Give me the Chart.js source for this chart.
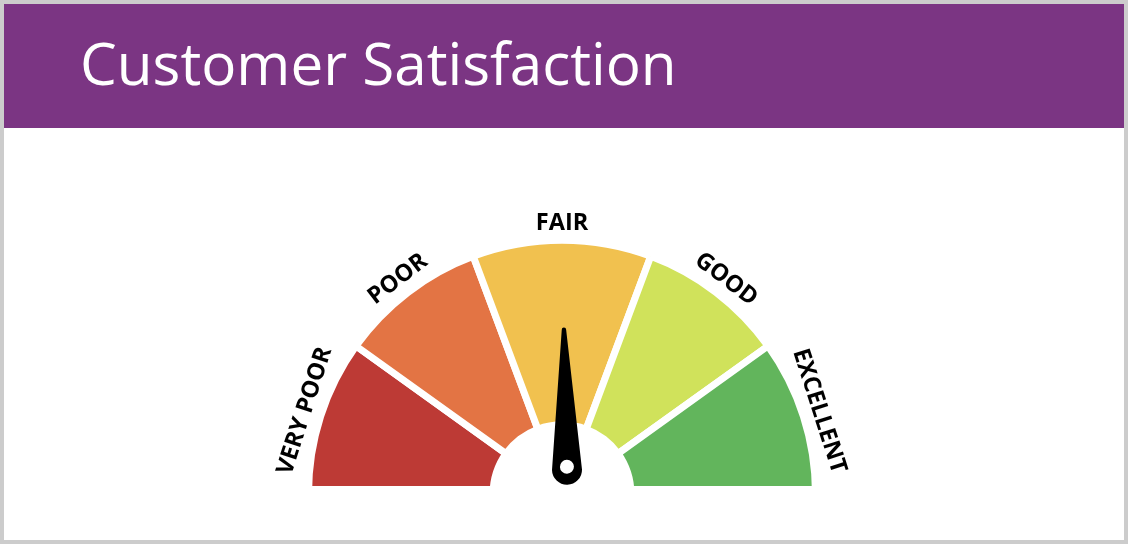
<!DOCTYPE html>
<html><head><meta charset="utf-8">
<script src="https://cdn.jsdelivr.net/npm/chart.js@4"></script>
<style>
html,body{margin:0;padding:0;background:#fff;}
#card{position:relative;width:1128px;height:544px;box-sizing:border-box;border:4px solid #cccccc;background:#fff;overflow:hidden;font-family:'Open Sans',sans-serif;}
#header{position:absolute;left:0;top:0;width:1120px;height:124px;background:#7b3583;}
#title{position:absolute;left:76px;top:30px;color:#fff;font-size:58.4px;line-height:58px;white-space:nowrap;}
#wrap{position:absolute;left:0;top:124px;width:1120px;height:358px;overflow:hidden;}
#gauge{position:absolute;left:0;top:0;}
</style></head>
<body>
<div id="card">
  <div id="header"><div id="title">Customer Satisfaction</div></div>
  <div id="wrap"><canvas id="gauge" width="1120" height="478"></canvas></div>
</div>
<script>
const categories = ['VERY POOR', 'POOR', 'FAIR', 'GOOD', 'EXCELLENT'];
const bandValues = [20, 19, 23, 19, 20];
const needleValue = 49.8;

const total = bandValues.reduce((s, v) => s + v, 0);

const labelPlugin = {
  id: 'gaugeLabels',
  afterDatasetsDraw(chart) {
    const ctx = chart.ctx;
    const meta = chart.getDatasetMeta(0);
    ctx.save();
    ctx.font = 'bold 23.5px "Open Sans"';
    ctx.fillStyle = '#000';
    ctx.textAlign = 'center';
    ctx.textBaseline = 'alphabetic';
    meta.data.forEach((arc, i) => {
      const p = arc.getProps(['x', 'y', 'startAngle', 'endAngle', 'outerRadius'], true);
      const a = (p.startAngle + p.endAngle) / 2;
      const r = p.outerRadius + 10;
      ctx.save();
      ctx.translate(p.x + Math.cos(a) * r, p.y + Math.sin(a) * r);
      ctx.rotate(a + Math.PI / 2);
      ctx.fillText(chart.data.labels[i], 0, 0);
      ctx.restore();
    });
    ctx.restore();
  }
};

const needlePlugin = {
  id: 'gaugeNeedle',
  afterDatasetsDraw(chart) {
    const ctx = chart.ctx;
    const arc = chart.getDatasetMeta(0).data[0];
    const cx = arc.x, cy = arc.y;
    const a = -Math.PI + (needleValue / total) * Math.PI;
    const len = 140, baseR = 15, tipR = 2.2;
    ctx.save();
    ctx.translate(cx + 5, cy - 24);
    ctx.rotate(a + Math.PI / 2);
    ctx.beginPath();
    ctx.moveTo(-baseR, 0);
    ctx.lineTo(-tipR, -len);
    ctx.arc(0, -len, tipR, Math.PI, 0);
    ctx.lineTo(baseR, 0);
    ctx.arc(0, 0, baseR, 0, Math.PI);
    ctx.closePath();
    ctx.fillStyle = '#000';
    ctx.fill();
    ctx.beginPath();
    ctx.arc(0, -3, 7, 0, Math.PI * 2);
    ctx.fillStyle = '#fff';
    ctx.fill();
    ctx.restore();
  }
};

new Chart(document.getElementById('gauge'), {
  type: 'doughnut',
  data: {
    labels: categories,
    datasets: [{
      data: bandValues,
      backgroundColor: ['#bd3a35', '#e37444', '#f1c14f', '#d0e25b', '#62b55c'],
      borderColor: '#ffffff',
      borderWidth: 7
    }]
  },
  options: {
    responsive: false,
    animation: false,
    rotation: -90,
    circumference: 180,
    radius: 253.5,
    cutout: '27.2%',
    layout: { padding: { right: 4 } },
    events: [],
    plugins: { legend: { display: false }, tooltip: { enabled: false } }
  },
  plugins: [labelPlugin, needlePlugin]
});
</script>
</body></html>
